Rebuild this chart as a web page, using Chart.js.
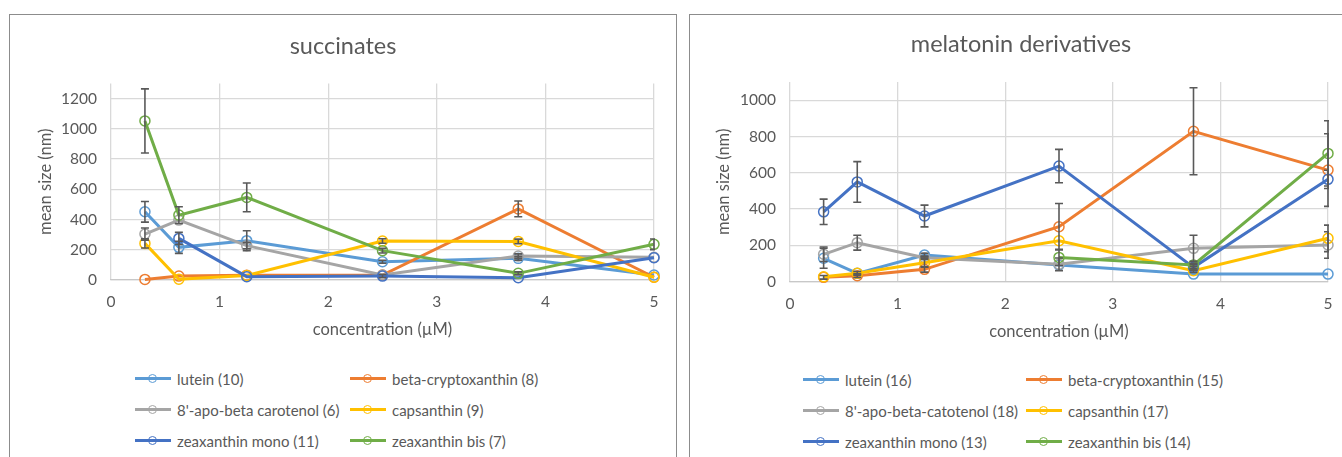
<!DOCTYPE html>
<html>
<head>
<meta charset="utf-8">
<script src="https://cdn.jsdelivr.net/npm/chart.js@4.4.0/dist/chart.umd.min.js"></script>
<style>
  body { margin: 0; width: 1342px; height: 457px; overflow: hidden; position: relative; background: #fff; font-family: Lato, sans-serif; }
  .box { position: absolute; top: 14px; height: 470px; border: 1px solid #8c8c8c; background: #fff; }
  #boxLeft { left: 9px; width: 666px; }
  #boxRight { left: 689px; width: 700px; }
  .box canvas { position: absolute; left: 0; top: 0; }
  .legend { position: absolute; display: grid; color: #595959; font-size: 15px; }
  #legendLeft { left: 125px; top: 348px; grid-template-columns: 215px auto; }
  #legendRight { left: 113px; top: 349px; grid-template-columns: 223px auto; }
  .item { display: flex; align-items: center; height: 31px; white-space: nowrap; }
  .swatch { position: relative; width: 36px; height: 11px; margin-right: 6px; flex: none; }
  .swatch::before { content: ""; position: absolute; left: 0; width: 36px; top: 4px; height: 3px; background: var(--c); }
  .swatch::after { content: ""; position: absolute; left: 13px; top: 0.5px; width: 7px; height: 7px; border: 1.5px solid var(--c); border-radius: 50%; }
</style>
</head>
<body>
<div class="box" id="boxLeft">
  <canvas id="chartLeft" width="666" height="330"></canvas>
  <div class="legend" id="legendLeft"></div>
</div>
<div class="box" id="boxRight">
  <canvas id="chartRight" width="662" height="330"></canvas>
  <div class="legend" id="legendRight"></div>
</div>
<script>
// x positions (µM) shared by both charts
const concentrations = [0.3125, 0.625, 1.25, 2.5, 3.75, 5];

// succinates
const succinateLabels = ["lutein (10)", "beta-cryptoxanthin (8)", "8'-apo-beta carotenol (6)", "capsanthin (9)", "zeaxanthin mono (11)", "zeaxanthin bis (7)"];
const sucLutein = [451, 216, 260, 121, 143, 33];
const sucBetaCrypto = [4, 26, 32, 33, 470, 18];
const sucApoCarotenol = [304, 396, 227, 33, 158, 150];
const sucCapsanthin = [242, 5, 30, 258, 255, 18];
const sucZeaMono = [null, 275, 22, 26, 15, 147];
const sucZeaBis = [1052, 429, 546, 194, 44, 236];
const sucLuteinErr = [68, 40, 66, 10, 12, 0];
const sucBetaCryptoErr = [0, 0, 0, 0, 52, 0];
const sucApoCarotenolErr = [40, 0, 20, 0, 15, 0];
const sucCapsanthinErr = [30, 0, 0, 15, 15, 0];
const sucZeaMonoErr = [0, 40, 0, 10, 0, 0];
const sucZeaBisErr = [212, 55, 95, 15, 10, 35];

// melatonin derivatives
const melatoninLabels = ["lutein (16)", "beta-cryptoxanthin (15)", "8'-apo-beta-catotenol (18)", "capsanthin (17)", "zeaxanthin mono (13)", "zeaxanthin bis (14)"];
const melLutein = [129, 46, 147, 92, 42, 42];
const melBetaCrypto = [24, 33, 68, 303, 829, 615];
const melApoCarotenol = [151, 215, 132, 96, 184, 202];
const melCapsanthin = [27, 46, 105, 226, 61, 239];
const melZeaMono = [385, 550, 362, 637, 79, 564];
const melZeaBis = [null, null, null, 134, 92, 707];
const melLuteinErr = [55, 10, 10, 0, 0, 0];
const melBetaCryptoErr = [10, 10, 15, 128, 240, 200];
const melApoCarotenolErr = [40, 41, 10, 35, 72, 73];
const melCapsanthinErr = [0, 0, 25, 0, 10, 73];
const melZeaMonoErr = [70, 112, 60, 92, 15, 50];
const melZeaBisErr = [0, 0, 0, 45, 10, 180];

const seriesColors = ["#5B9BD5", "#ED7D31", "#A5A5A5", "#FFC000", "#4472C4", "#70AD47"];
const textColor = "#595959";
const gridColor = "#d9d9d9";

Chart.defaults.font.family = "Lato, sans-serif";
Chart.defaults.color = textColor;

// vertical error bars, drawn from each dataset's errors array
const errorBarPlugin = {
  id: "errorBars",
  afterDatasetsDraw(chart) {
    const { ctx, chartArea, scales } = chart;
    ctx.save();
    ctx.beginPath();
    ctx.rect(chartArea.left, chartArea.top, chartArea.right - chartArea.left + 1, chartArea.bottom - chartArea.top + 1);
    ctx.clip();
    ctx.strokeStyle = "#595959";
    ctx.lineWidth = 1.6;
    chart.data.datasets.forEach((ds) => {
      ds.data.forEach((p, i) => {
        const err = ds.errors[i];
        if (p.y == null || !err) return;
        const px = scales.x.getPixelForValue(p.x);
        const top = scales.y.getPixelForValue(p.y + err);
        const bot = scales.y.getPixelForValue(p.y - err);
        ctx.beginPath();
        ctx.moveTo(px, top);
        ctx.lineTo(px, bot);
        ctx.moveTo(px - 4, top);
        ctx.lineTo(px + 4, top);
        ctx.moveTo(px - 4, bot);
        ctx.lineTo(px + 4, bot);
        ctx.stroke();
      });
    });
    ctx.restore();
  },
};

function makeDatasets(labels, seriesList, errorList) {
  return labels.map((label, i) => ({
    label,
    data: concentrations.map((x, j) => ({ x, y: seriesList[i][j] })),
    errors: errorList[i],
    borderColor: seriesColors[i],
    backgroundColor: seriesColors[i],
    borderWidth: 3,
    pointRadius: 5,
    pointBorderWidth: 1.5,
    pointBackgroundColor: "rgba(0,0,0,0)",
    pointBorderColor: seriesColors[i],
    tension: 0,
    clip: false,
    order: labels.length - i,
  }));
}

function renderLegend(chart, legendEl) {
  chart.data.datasets.forEach((ds) => {
    const item = document.createElement("div");
    item.className = "item";
    item.innerHTML = `<span class="swatch" style="--c:${ds.borderColor}"></span><span>${ds.label}</span>`;
    legendEl.appendChild(item);
  });
}

function makeChart(canvasId, legendId, title, datasets, lay) {
  const chart = new Chart(document.getElementById(canvasId), {
    type: "line",
    data: { datasets },
    plugins: [errorBarPlugin],
    options: {
      responsive: false,
      animation: false,
      layout: { padding: 0 },
      plugins: {
        legend: { display: false },
        tooltip: { enabled: false },
        title: {
          display: true,
          text: title,
          color: textColor,
          font: { size: 23.5, weight: "normal" },
          padding: { top: lay.titleTop, bottom: lay.titleBottom },
        },
      },
      scales: {
        x: {
          type: "linear",
          min: 0,
          max: 5,
          ticks: { stepSize: 1, padding: 13, font: { size: 15.5 }, callback: (v) => v },
          grid: { color: gridColor, lineWidth: 1.3, drawTicks: false },
          border: { color: "#c8c8c8", width: 1.3 },
          title: { display: true, text: "concentration (µM)", font: { size: 16.5 }, padding: { top: 0, bottom: lay.xTitlePad } },
          afterFit: (s) => { s.height = lay.xAxisHeight; },
        },
        y: {
          type: "linear",
          min: 0,
          max: lay.yMax,
          ticks: { stepSize: 200, includeBounds: false, padding: 14, font: { size: 15.5 }, callback: (v) => v },
          grid: { color: gridColor, lineWidth: 1.3, drawTicks: false },
          border: { display: false },
          title: { display: true, text: "mean size (nm)", font: { size: 16.5 }, padding: { top: lay.yTitlePad, bottom: 0 } },
          afterFit: (s) => { s.width = lay.yAxisWidth; },
        },
        // empty space right of the plot area
        spacer: {
          type: "linear",
          position: "right",
          ticks: { display: false },
          grid: { display: false },
          border: { display: false },
          afterFit: (s) => { s.width = lay.rightGap; },
        },
      },
    },
  });
  renderLegend(chart, document.getElementById(legendId));
  return chart;
}

makeChart("chartLeft", "legendLeft", "succinates",
  makeDatasets(succinateLabels,
    [sucLutein, sucBetaCrypto, sucApoCarotenol, sucCapsanthin, sucZeaMono, sucZeaBis],
    [sucLuteinErr, sucBetaCryptoErr, sucApoCarotenolErr, sucCapsanthinErr, sucZeaMonoErr, sucZeaBisErr]),
  { yMax: 1300, titleTop: 17, titleBottom: 23.2, xAxisHeight: 65, xTitlePad: 5, yAxisWidth: 101, yTitlePad: 26, rightGap: 22 });

makeChart("chartRight", "legendRight", "melatonin derivatives",
  makeDatasets(melatoninLabels,
    [melLutein, melBetaCrypto, melApoCarotenol, melCapsanthin, melZeaMono, melZeaBis],
    [melLuteinErr, melBetaCryptoErr, melApoCarotenolErr, melCapsanthinErr, melZeaMonoErr, melZeaBisErr]),
  { yMax: 1100, titleTop: 15, titleBottom: 23.9, xAxisHeight: 63.3, xTitlePad: 3.4, yAxisWidth: 100, yTitlePad: 24, rightGap: 24 });
</script>
</body>
</html>
